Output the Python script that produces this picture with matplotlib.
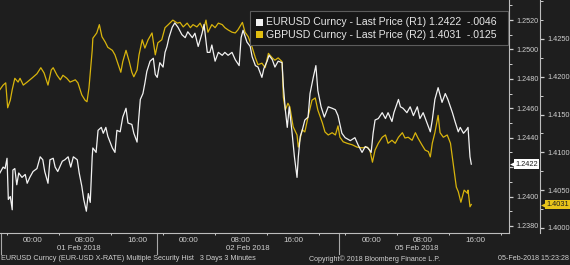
import matplotlib
matplotlib.use("Agg")
import matplotlib.pyplot as plt
from matplotlib.patches import Rectangle
from matplotlib.ticker import FixedLocator, MultipleLocator, FormatStrFormatter, FuncFormatter
from matplotlib.transforms import blended_transform_factory as blend

plt.rcParams['font.family'] = ['Liberation Sans', 'DejaVu Sans']

# x = session hours from 01 Feb 2018 00:00, weekend squeezed out (Bloomberg style)
eur_hours = [-5.1, -4.6, -4.3, -4.0, -3.8, -3.5, -3.2, -3.1, -2.8, -2.5, -2.2, -1.7, -1.2, -0.9, -0.5,
             0.0, 0.6, 1.1, 1.5, 1.8, 2.3, 2.6, 3.1, 3.4, 3.8, 4.5, 4.9, 5.4, 5.8, 6.2, 6.8, 7.1, 7.5,
             7.8, 8.2, 8.5, 8.8, 9.1, 9.2, 9.7, 10.0, 10.5, 10.8, 11.2, 11.5, 12.2, 12.6, 12.9, 13.4,
             13.8, 14.3, 14.6, 15.2, 15.5, 16.0, 16.2, 16.5, 16.9, 17.2, 17.5, 18.0, 18.5, 18.8, 19.1,
             19.5, 20.0, 20.3, 20.6, 20.9, 21.4, 21.8, 22.3, 22.9, 23.4, 23.8, 24.5, 24.9, 25.4, 26.0,
             26.3, 26.8, 27.2, 27.5, 28.0, 28.5, 29.1, 29.5, 30.0, 30.6, 31.1, 31.7, 32.0, 32.3, 32.9,
             33.4, 33.7, 34.2, 34.6, 35.2, 35.5, 36.0, 36.3, 36.8, 37.2, 37.7, 38.3, 38.5, 38.8, 39.1,
             39.4, 39.8, 40.2, 40.6, 40.8, 41.1, 41.4, 41.8, 42.3, 42.6, 43.1, 43.5, 43.8, 44.3, 44.8,
             45.4, 46.0, 46.5, 46.9, 47.2, 47.5, 48.0, 48.8, 49.5, 50.0, 50.6, 51.1, 51.5, 52.0, 52.3,
             52.6, 53.1, 53.7, 54.2, 54.6, 55.2, 55.5, 56.2, 56.5, 56.9, 57.5, 58.0, 58.5, 59.1, 59.5,
             60.0, 60.6, 61.1, 61.4, 61.8, 62.3, 62.6, 62.9, 63.4, 63.8, 64.5, 64.9, 65.4, 65.7, 66.2,
             66.6, 66.9, 67.2, 67.4]
eur_price = [1.2416, 1.2420, 1.2419, 1.2426, 1.2398, 1.2400, 1.2391, 1.2418, 1.2419, 1.2408, 1.2416,
             1.2413, 1.2415, 1.2409, 1.2413, 1.2417, 1.2419, 1.2427, 1.2425, 1.2417, 1.2409, 1.2425,
             1.2426, 1.2420, 1.2417, 1.2424, 1.2425, 1.2427, 1.2420, 1.2427, 1.2425, 1.2416, 1.2407,
             1.2398, 1.2390, 1.2402, 1.2396, 1.2427, 1.2433, 1.2430, 1.2445, 1.2447, 1.2443, 1.2447,
             1.2441, 1.2433, 1.2430, 1.2445, 1.2444, 1.2454, 1.2460, 1.2450, 1.2449, 1.2443, 1.2437,
             1.2450, 1.2466, 1.2470, 1.2477, 1.2485, 1.2492, 1.2494, 1.2483, 1.2481, 1.2491, 1.2488,
             1.2498, 1.2502, 1.2508, 1.2515, 1.2518, 1.2515, 1.2510, 1.2508, 1.2512, 1.2508, 1.2511,
             1.2502, 1.2511, 1.2517, 1.2498, 1.2498, 1.2503, 1.2492, 1.2498, 1.2496, 1.2498, 1.2496,
             1.2498, 1.2493, 1.2489, 1.2508, 1.2513, 1.2505, 1.2502, 1.2495, 1.2489, 1.2488, 1.2481,
             1.2487, 1.2492, 1.2496, 1.2493, 1.2488, 1.2492, 1.2491, 1.2475, 1.2459, 1.2447, 1.2461,
             1.2445, 1.2427, 1.2413, 1.2427, 1.2441, 1.2445, 1.2452, 1.2454, 1.2470, 1.2481, 1.2489,
             1.2472, 1.2461, 1.2454, 1.2461, 1.2460, 1.2459, 1.2455, 1.2449, 1.2443, 1.2440, 1.2438,
             1.2440, 1.2435, 1.2430, 1.2434, 1.2433, 1.2430, 1.2443, 1.2452, 1.2453, 1.2457, 1.2453,
             1.2457, 1.2451, 1.2457, 1.2466, 1.2461, 1.2460, 1.2457, 1.2461, 1.2455, 1.2461, 1.2453,
             1.2457, 1.2450, 1.2444, 1.2452, 1.2466, 1.2474, 1.2469, 1.2464, 1.2470, 1.2466, 1.2457,
             1.2451, 1.2444, 1.2447, 1.2443, 1.2445, 1.2447, 1.2427, 1.2422]

gbp_hours = [-5.1, -4.6, -4.2, -3.9, -3.5, -3.2, -2.8, -2.3, -2.0, -1.5, -0.9, -0.2, 0.6, 1.2, 1.7,
             2.3, 2.8, 3.1, 3.7, 4.2, 4.6, 5.2, 5.7, 6.5, 6.9, 7.5, 8.0, 8.3, 8.6, 9.1, 9.2, 9.8, 10.2,
             10.6, 11.1, 11.5, 12.2, 12.6, 13.1, 13.5, 13.8, 14.3, 14.8, 15.2, 15.5, 16.0, 16.3, 16.8,
             17.2, 17.7, 18.3, 18.8, 19.2, 19.8, 20.3, 20.8, 21.5, 22.2, 22.6, 23.1, 23.7, 24.2, 24.6,
             25.2, 25.7, 26.2, 26.6, 26.9, 27.5, 28.0, 28.5, 29.1, 29.5, 30.0, 30.6, 31.1, 31.5, 32.2,
             32.6, 33.1, 33.7, 34.2, 34.6, 35.2, 35.7, 36.2, 36.8, 37.2, 37.7, 38.3, 38.5, 38.8, 39.2,
             39.5, 40.0, 40.6, 40.8, 41.4, 41.8, 42.3, 42.9, 43.4, 43.8, 44.5, 44.9, 45.4, 46.0, 46.5,
             46.9, 47.2, 47.7, 48.3, 49.1, 49.8, 50.6, 51.4, 51.8, 52.2, 52.6, 53.1, 53.7, 54.2, 54.6,
             55.2, 55.7, 56.2, 56.8, 57.2, 57.7, 58.3, 58.8, 59.2, 59.8, 60.3, 60.8, 61.1, 61.4, 61.8,
             62.3, 62.6, 63.1, 63.7, 64.2, 64.6, 65.1, 65.4, 65.8, 66.3, 66.8, 66.9, 67.2, 67.4]
gbp_price = [1.4183, 1.4189, 1.4192, 1.4159, 1.4169, 1.4183, 1.4198, 1.4193, 1.4198, 1.4189, 1.4193,
             1.4198, 1.4204, 1.4212, 1.4205, 1.4189, 1.4209, 1.4212, 1.4202, 1.4196, 1.4202, 1.4198,
             1.4193, 1.4196, 1.4192, 1.4176, 1.4169, 1.4167, 1.4185, 1.4235, 1.4251, 1.4258, 1.4269,
             1.4253, 1.4246, 1.4239, 1.4235, 1.4229, 1.4216, 1.4206, 1.4220, 1.4235, 1.4220, 1.4206,
             1.4200, 1.4209, 1.4229, 1.4249, 1.4238, 1.4249, 1.4258, 1.4229, 1.4245, 1.4249, 1.4265,
             1.4269, 1.4275, 1.4271, 1.4272, 1.4266, 1.4271, 1.4265, 1.4269, 1.4266, 1.4271, 1.4262,
             1.4275, 1.4259, 1.4269, 1.4265, 1.4271, 1.4269, 1.4265, 1.4262, 1.4259, 1.4258, 1.4262,
             1.4272, 1.4259, 1.4253, 1.4239, 1.4225, 1.4216, 1.4218, 1.4212, 1.4231, 1.4225, 1.4222,
             1.4225, 1.4220, 1.4173, 1.4156, 1.4165, 1.4160, 1.4134, 1.4123, 1.4107, 1.4130, 1.4127,
             1.4147, 1.4169, 1.4172, 1.4156, 1.4139, 1.4127, 1.4123, 1.4126, 1.4123, 1.4135, 1.4120,
             1.4114, 1.4112, 1.4110, 1.4107, 1.4106, 1.4107, 1.4103, 1.4087, 1.4103, 1.4112, 1.4120,
             1.4123, 1.4112, 1.4116, 1.4112, 1.4120, 1.4126, 1.4119, 1.4120, 1.4116, 1.4126, 1.4119,
             1.4110, 1.4103, 1.4101, 1.4094, 1.4112, 1.4126, 1.4149, 1.4126, 1.4120, 1.4123, 1.4112,
             1.4086, 1.4054, 1.4048, 1.4034, 1.4050, 1.4046, 1.4050, 1.4028, 1.4031]

hour_ticks = [0, 8, 16, 24, 32, 40, 52, 60, 68]
hour_labels = ["00:00", "08:00", "16:00", "00:00", "08:00", "16:00", "00:00", "08:00", "16:00"]
minor_hours = [-4, 4, 12, 20, 28, 36, 44, 48, 56, 64, 72]
day_breaks = [-5, 19, 47]
day_mid = [7, 33, 59]
day_labels = ["01 Feb 2018", "02 Feb 2018", "05 Feb 2018"]

eur_last, eur_chg = 1.2422, "-.0046"
gbp_last, gbp_chg = 1.4031, "-.0125"

BG = '#1e1e1e'
FG = '#cfcfcf'
WHITE = '#f2f2f2'
GOLD = '#d8b40c'
W, H = 570, 265

fig = plt.figure(figsize=(W / 100, H / 100), dpi=100, facecolor=BG)
ax = fig.add_axes([0, 1 - 233 / H, 509 / W, 233 / H])
ax2 = ax.twinx()
ax.set_zorder(ax2.get_zorder() + 1)
ax.patch.set_visible(False)
ax2.set_facecolor(BG)

ax2.plot(gbp_hours, gbp_price, color=GOLD, lw=0.9)
ax.plot(eur_hours, eur_price, color=WHITE, lw=0.9)

ax.set_xlim(-5.08, 73.2)
ax.set_ylim(1.23752, 1.25336)
ax2.set_ylim(1.39933, 1.43016)

for s in ['left', 'top']:
    ax.spines[s].set_visible(False)
for s in ['left', 'top', 'bottom']:
    ax2.spines[s].set_visible(False)
ax.spines['right'].set_color('#bdbdbd')
ax.spines['bottom'].set_color('#bdbdbd')
ax.spines['right'].set_linewidth(0.8)
ax.spines['bottom'].set_linewidth(0.8)
ax2.spines['right'].set_position(('outward', 31 * 0.72))
ax2.spines['right'].set_color('#bdbdbd')
ax2.spines['right'].set_linewidth(0.8)


def r1_fmt(v, pos):
    # the 1.2420 label sits under the last-price tag
    if abs(v - 1.242) < 1e-6:
        return ""
    return f"{v:.4f}"


# R1 axis
ax.yaxis.tick_right()
ax.yaxis.set_major_locator(FixedLocator([1.238, 1.240, 1.242, 1.244, 1.246, 1.248, 1.250, 1.252]))
ax.yaxis.set_minor_locator(MultipleLocator(0.001))
ax.yaxis.set_major_formatter(FuncFormatter(r1_fmt))
ax.tick_params(axis='y', which='major', length=3, width=0.9, colors=FG, labelsize=5.2, pad=2)
ax.tick_params(axis='y', which='minor', length=2, width=0.7, colors=FG)

# R2 axis
ax2.yaxis.set_major_locator(FixedLocator([1.400, 1.405, 1.410, 1.415, 1.420, 1.425]))
ax2.yaxis.set_minor_locator(MultipleLocator(0.0025))
ax2.yaxis.set_major_formatter(FormatStrFormatter('%.4f'))
ax2.tick_params(axis='y', which='major', length=3, width=0.9, colors=FG, labelsize=5.3, pad=2)
ax2.tick_params(axis='y', which='minor', length=2, width=0.7, colors=FG)

# time axis
ax.set_xticks(hour_ticks, hour_labels)
ax.set_xticks(minor_hours, minor=True)
ax.tick_params(axis='x', which='major', length=0, colors=FG, labelsize=5.8, pad=3)
ax.tick_params(axis='x', which='minor', length=1.5, width=0.7, colors=FG)

tr = blend(ax.transData, ax.transAxes)
for d in day_breaks:
    ax.plot([d, d], [0, -21 / 233], color='#a8a8a8', lw=0.8, transform=tr, clip_on=False)
for m, lab in zip(day_mid, day_labels):
    ax.text(m, -16 / 233, lab, transform=tr, ha='center', va='center', color=FG, fontsize=5.6)

# last value tags
tr1 = blend(ax.transAxes, ax.transData)
ax.plot([1 + 2.5 / 509], [eur_last], marker='<', ms=3.5, color='white', mec='none',
        transform=tr1, clip_on=False)
ax.text(1 + 6 / 509, eur_last, f"{eur_last:.4f}", transform=tr1, ha='left', va='center',
        fontsize=5.3, color='#1e1e1e', clip_on=False,
        bbox=dict(boxstyle='square,pad=0.18', fc='white', ec='none'))
tr2 = blend(ax2.transAxes, ax2.transData)
ax2.plot([1 + 33.5 / 509], [gbp_last], marker='<', ms=3.5, color='#e8c41a', mec='none',
         transform=tr2, clip_on=False)
ax2.text(1 + 37 / 509, gbp_last, f"{gbp_last:.4f}", transform=tr2, ha='left', va='center',
         fontsize=5.3, color='#1e1e1e', clip_on=False,
         bbox=dict(boxstyle='square,pad=0.18', fc='#e8c41a', ec='none'))

# legend box
fig.add_artist(Rectangle((250 / W, 1 - 45 / H), 258 / W, 34 / H, transform=fig.transFigure,
                         fc='#161616', ec='#5c5c5c', lw=0.8, zorder=5))
fig.add_artist(Rectangle((256 / W, 1 - 25.5 / H), 7 / W, 7 / H, transform=fig.transFigure,
                         fc=WHITE, ec='none', zorder=6))
fig.add_artist(Rectangle((256 / W, 1 - 38 / H), 7 / W, 7 / H, transform=fig.transFigure,
                         fc='#e0bd10', ec='none', zorder=6))
fig.text(266 / W, 1 - 22 / H, f"EURUSD Curncy - Last Price (R1) {eur_last:.4f}  {eur_chg}",
         fontsize=7.6, color='#e6e6e6', va='center', zorder=6)
fig.text(266 / W, 1 - 34.5 / H, f"GBPUSD Curncy - Last Price (R2) {gbp_last:.4f}  {gbp_chg}",
         fontsize=7.6, color='#e6e6e6', va='center', zorder=6)

# footer
fig.text(1 / W, 1 - 259 / H, "EURUSD Curncy (EUR-USD X-RATE) Multiple Security Hist   3 Days 3 Minutes",
         fontsize=5.2, color=FG, va='center')
fig.text(309 / W, 1 - 259 / H, "Copyright\u00a9 2018 Bloomberg Finance L.P.",
         fontsize=5.1, color=FG, va='center')
fig.text(569 / W, 1 - 259 / H, "05-Feb-2018 15:23:28", fontsize=5.1, color=FG,
         va='center', ha='right')

fig.savefig("out.png", dpi=100, facecolor=BG)
